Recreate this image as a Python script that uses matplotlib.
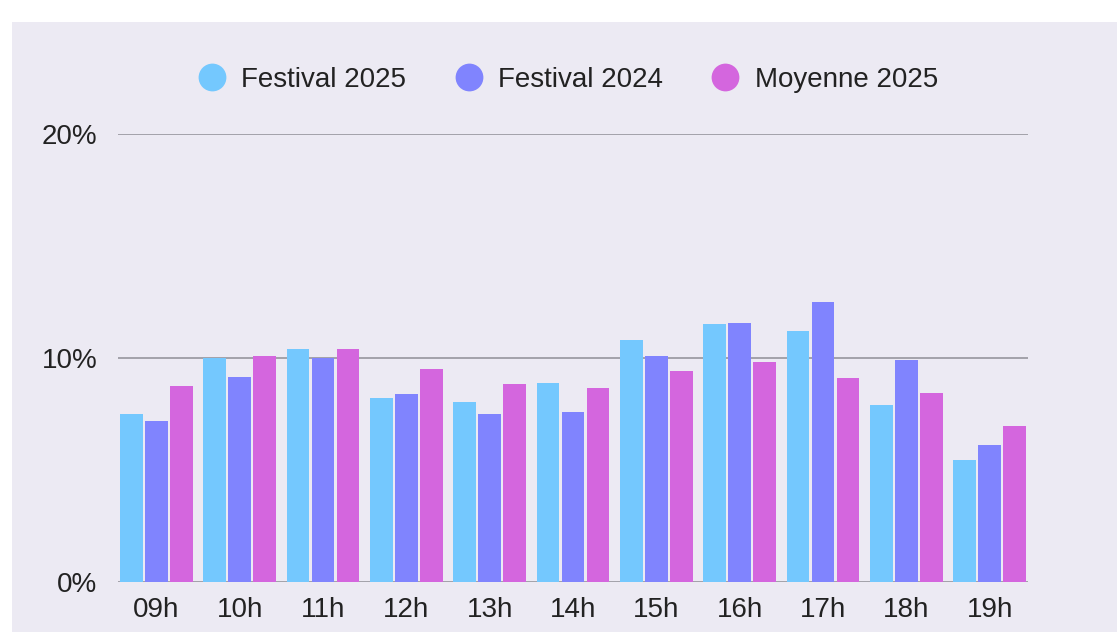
import numpy as np
import matplotlib.pyplot as plt
from matplotlib.patches import Rectangle
from matplotlib.lines import Line2D

hours = ["09h", "10h", "11h", "12h", "13h", "14h", "15h", "16h", "17h", "18h", "19h"]
festival_2025 = [7.5, 10.0, 10.4, 8.2, 8.05, 8.9, 10.8, 11.5, 11.2, 7.9, 5.45]
festival_2024 = [7.2, 9.15, 10.0, 8.4, 7.5, 7.6, 10.1, 11.55, 12.5, 9.9, 6.1]
moyenne_2025 = [8.75, 10.1, 10.4, 9.5, 8.85, 8.65, 9.4, 9.8, 9.1, 8.45, 6.95]

labels = ["Festival 2025", "Festival 2024", "Moyenne 2025"]
colors = ["#74C8FE", "#8084FE", "#D466DE"]

plt.rcParams['font.family'] = ['Liberation Sans', 'DejaVu Sans']

fig = plt.figure(figsize=(11.17, 6.32), dpi=100)
fig.patch.set_facecolor("white")

# lavender panel behind the chart
fig.patches.append(Rectangle((12 / 1117, 0), 1, 1 - 22 / 632, transform=fig.transFigure,
                             facecolor="#ECEAF3", edgecolor="none", zorder=-5))

ax = fig.add_axes([118 / 1117, 1 - 582 / 632, 910 / 1117, (582 - 134) / 632])
ax.set_facecolor("none")

x = np.arange(len(hours))
w = 0.3
for i, (vals, c) in enumerate(zip([festival_2025, festival_2024, moyenne_2025], colors)):
    ax.bar(x + (i - 1) * w, vals, width=w - 0.025, color=c, zorder=3, label=labels[i])

ax.set_xlim(-0.46, len(hours) - 0.54)
ax.set_ylim(0, 20)
ax.set_yticks([0, 10, 20])
ax.set_yticklabels(["0%", "10%", "20%"])
ax.set_xticks(x)
ax.set_xticklabels(hours)
ax.yaxis.grid(True, color="#A3A2AA", linewidth=1.4)
ax.set_axisbelow(True)
for s in ax.spines.values():
    s.set_visible(False)
ax.tick_params(length=0, labelsize=20, colors="#222222")
ax.tick_params(axis="y", pad=15)
ax.tick_params(axis="x", pad=11)

handles = [Line2D([], [], marker="o", linestyle="none", markersize=20,
                  markerfacecolor=c, markeredgecolor="none") for c in colors]
fig.legend(handles, labels, loc="center", bbox_to_anchor=(566 / 1117, 1 - 80 / 632), ncol=3,
           frameon=False, fontsize=20, handletextpad=0.4, handlelength=1.3,
           columnspacing=1.6, labelcolor="#222222")

fig.savefig("out.png", dpi=100, facecolor=fig.get_facecolor())
